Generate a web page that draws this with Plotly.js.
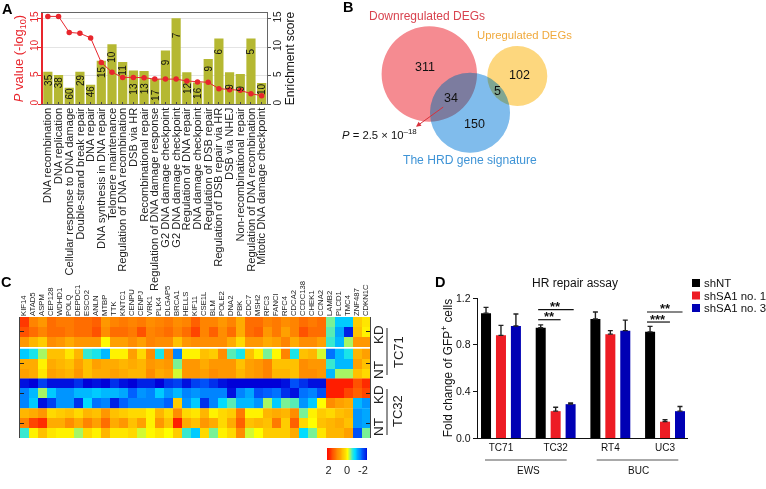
<!DOCTYPE html>
<html><head><meta charset="utf-8">
<script src="https://cdn.plot.ly/plotly-3.0.1.min.js"></script>
<style>html,body{margin:0;padding:0;background:#fff}
#p{width:766px;height:489px}
</style></head><body><div id="p"></div>
<script>
const FONT='"Liberation Sans", Arial, sans-serif';
// Panel A
const terms=["DNA recombination","DNA replication","Cellular response to DNA damage","Double-strand break repair","DNA repair","DNA synthesis in DNA repair","Telomere maintenance","Regulation of DNA recombination","DSB via HR","Recombinational repair","Regulation of DNA damage response","G2 DNA damage checkpoint","G2 DNA damage checkpoint","Regulation of DNA repair","DNA damage checkpoint","Regulation of DSB repair","Regulation of DSB repair via HR","DSB via NHEJ","Non-recombinational repair","Regulation of DNA recombination","Mitotic DNA damage checkpoint"];
const enrichment=[5.7,5.1,2.9,5.7,3.4,7.6,10.5,7.4,5.9,5.8,4.4,9.4,15.05,5.6,3.8,7.9,11.5,5.6,5.3,11.5,3.7];
const pValues=[15.35,15.35,12.56,12.4,11.6,7.3,5.6,4.7,4.7,4.65,4.4,4.4,4.4,4.07,3.9,3.84,2.73,2.56,2.44,1.86,1.5];
const geneCounts=[35,38,60,29,46,15,10,11,13,13,17,9,7,12,16,9,6,9,9,5,10];
const countLabelLevels=[4.24,3.78,1.92,4.24,2.2,5.7,8.3,6.0,2.8,2.8,1.6,7.4,12.1,2.8,1.9,6.3,9.2,3.0,2.8,9.2,2.6];
// Panel B
const vennCounts=["311","102","34","5","150"];
// Panel C
const genes=["KIF14","ATAD5","ASPM","CEP128","WDHD1","POLQ","DEPDC1","ESCO2","ANLN","MTBP","TTK","KNTC1","CENPU","CENPJ","VRK1","PLK4","DLGAP5","BRCA1","HELLS","KIF11","CSE1L","BLM","POLE2","DNA2","PBK","CDC7","MSH2","RFC3","FANCI","RFC4","CDCA2","CCDC138","CHEK1","CCNA2","LAMB2","PLCD1","TMC4","ZNF487","CDKN1C"];
const tc71KD=[
[1.7,1.1,0.9,1.3,1.2,1.2,1.3,1.3,1.4,0.9,1.1,1.2,1.1,1.2,1.0,1.1,1.2,1.0,1.1,1.4,1.1,1.1,0.9,1.1,0.7,1.3,1.3,1.1,1.2,1.0,1.1,1.3,1.2,1.3,-0.3,-0.8,-0.8,0.4,0.2],
[1.5,1.3,1.1,1.3,1.3,1.2,1.3,1.3,1.5,1.0,1.3,1.3,1.2,1.5,1.1,1.2,1.3,1.1,1.3,1.6,1.1,1.4,1.0,1.3,0.7,1.3,1.4,0.9,1.2,0.8,1.1,1.5,1.3,1.3,-0.4,-1.0,-1.8,0.5,0.1],
[0.9,0.6,0.4,1.0,0.9,0.7,0.9,0.9,0.9,0.05,0.8,0.8,1.0,0.8,1.1,1.0,1.0,0.5,0.9,1.0,1.0,1.0,1.0,0.7,0.3,0.9,0.9,0.7,0.8,1.1,0.7,1.0,1.0,0.8,-0.5,-0.9,-0.2,0.9,0.9]];
const tc71NT=[
[-0.8,-0.6,-0.2,0.5,0.5,0.2,0.6,-0.5,-0.6,-0.9,0.1,0.1,0.8,0.3,1.0,-0.6,1.0,-1.2,0.1,0.1,0.5,0.4,1.0,-0.4,-0.6,0.5,0.1,-0.3,0.05,1.1,-0.6,0.5,0.6,-0.1,-1.3,-0.9,-0.6,0.6,0.8],
[0.7,0.7,0.1,0.7,0.6,0.5,0.8,0.5,0.8,0.7,0.7,0.6,0.7,0.6,0.9,0.8,0.9,-0.3,0.9,0.9,0.7,0.9,0.9,0.9,0.5,0.8,0.9,1.1,0.5,0.5,0.5,1.0,0.9,0.9,-0.5,-0.9,-0.9,0.8,0.5],
[0.8,0.7,0.2,0.8,0.7,0.6,0.9,0.5,0.7,0.7,0.8,0.7,0.6,0.6,1.0,0.7,0.8,-0.1,0.9,0.9,0.8,1.0,0.9,0.9,0.6,0.8,0.9,1.1,0.6,0.6,0.5,1.0,1.0,0.9,-0.9,-0.2,-0.2,0.5,0.3]];
const tc32KD=[
[-1.9,-2,-1.6,-1.9,-1.9,-1.9,-1.7,-2,-1.9,-2,-1.7,-1.9,-2,-1.8,-1.8,-2,-1.7,-1.6,-1.9,-1.6,-1.5,-1.7,-1.9,-2,-2,-2,-2,-2,-2,-1.9,-1.5,-1.7,-1.9,-1.9,1.9,1.9,1.9,1.5,1.8],
[-1.2,-0.9,-0.2,-0.8,-1.1,-1.1,-0.9,-0.9,-0.8,-0.9,-0.9,-1.0,-1.4,-1.1,-1.2,-0.8,-1.1,-0.9,-1.2,-1.1,-1.2,-1.2,-1.2,-1.9,-1.2,-1.0,-1.5,-1.4,-1.3,-1.7,-1.9,-1.3,-1.2,-1.5,1.9,1.9,1.6,1.4,1.6],
[-1.2,-0.8,-1.9,-1.6,-1.1,-1.1,-1.7,-0.7,-1.3,-1.2,-1.8,-1.4,-1.2,-1.2,-1.2,-1.2,-1.4,0.4,-1.1,-0.8,-1.7,-1.2,-0.7,-0.4,-0.9,-0.9,-1.1,-0.2,-0.8,-0.3,-0.4,-1.1,-0.8,0.0,1.0,0.8,0.7,-0.9,-1.1]];
const tc32NT=[
[0.6,0.7,0.9,0.3,0.4,0.5,0.3,0.6,0.5,0.9,0.5,0.4,0.3,0.3,0.1,0.6,0.3,1.0,0.3,0.2,0.6,0.1,0.3,0.4,1.2,0.1,0.1,0.6,0.7,0.6,1.0,-0.3,0.1,0.4,0.3,0.5,0.6,-1.1,-1.0],
[1.1,1.6,1.8,0.7,0.7,1.0,0.7,1.1,0.8,1.3,0.7,0.9,0.5,0.8,0.1,0.9,0.5,1.9,0.7,0.5,0.9,0.7,0.3,0.7,1.4,0.5,0.6,0.5,1.2,0.4,1.4,0.3,0,0.5,0.6,0.7,0.5,-1.1,-1.0],
[-0.5,0.1,0.5,0.2,0.1,0.1,-0.2,0.3,0.1,0.6,0.2,0.2,0.3,-0.1,0.05,0.2,0,0.4,-0.5,-0.8,0.3,-0.3,0.1,0.3,1.0,-0.1,0,0.4,0.4,0.4,0.7,-0.7,-0.3,0.2,0.6,0.6,0.8,-1.5,-0.3]];
const colorKeySteps=[2,1.75,1.5,1.25,1,0.75,0.5,0.25,0,-0.25,-0.5,-0.75,-1,-1.25,-1.5,-1.75,-2];
// Panel D
const cellLines=["TC71","TC32","RT4","UC3"];
const shNT=[1.07,0.945,1.02,0.91];
const shNTerr=[0.05,0.025,0.06,0.047];
const shSA1no1=[0.88,0.23,0.89,0.14];
const shSA1no1err=[0.085,0.033,0.03,0.017];
const shSA1no3=[0.96,0.29,0.92,0.23];
const shSA1no3err=[0.103,0.01,0.09,0.04];
const seriesNames=["shNT","shSA1 no. 1","shSA1 no. 3"];
const seriesColors=["#000000","#ed1c24","#0000b4"];

const W=766,H=489;
const fx=x=>x/W, fy=y=>1-y/H;
const dx=(a,b)=>[fx(a),fx(b)], dy=(top,bot)=>[fy(bot),fy(top)];
const RED='#e8262d';
const scale=[[0,'#0000d8'],[0.15,'#0060ff'],[0.33,'#00e0ff'],[0.42,'#70f0a0'],[0.5,'#ffff00'],[0.6,'#ffcc00'],[0.7,'#ffa000'],[0.8,'#ff7a00'],[1,'#ff1000']];
const idx=terms.map((_,i)=>i);
const traces=[];
traces.push({type:'bar',x:idx,y:enrichment,xaxis:'x',yaxis:'y',width:0.86,marker:{color:'#b5b832'},hoverinfo:'y'});
traces.push({type:'scatter',mode:'lines+markers',x:idx,y:pValues,xaxis:'x',yaxis:'y2',line:{color:RED,width:1},marker:{color:RED,size:5.5},hoverinfo:'y'});
const groups=[[tc71KD,0],[tc71NT,3.2],[tc32KD,6.2],[tc32NT,9.2]];
groups.forEach(([z,off])=>traces.push({type:'heatmap',x:genes,y:[off,off+1,off+2],z,xaxis:'x2',yaxis:'y3',zmin:-2,zmax:2,colorscale:scale,showscale:false,hoverinfo:'z'}));
traces.push({type:'heatmap',x:colorKeySteps,y:[0],z:[colorKeySteps],xaxis:'x3',yaxis:'y4',zmin:-2,zmax:2,colorscale:scale,showscale:false,zsmooth:'best',hoverinfo:'x'});
[[shNT,shNTerr],[shSA1no1,shSA1no1err],[shSA1no3,shSA1no3err]].forEach(([v,e],i)=>traces.push({type:'bar',name:seriesNames[i],x:cellLines,y:v,xaxis:'x4',yaxis:'y5',marker:{color:seriesColors[i]},
  error_y:{type:'data',array:e,symmetric:false,arrayminus:[0,0,0,0],color:'#222',thickness:1.4,width:2.5}}));
const f=(s,c)=>({family:FONT,size:s,color:c||'#111'});
const layout={width:W,height:H,margin:{l:0,r:0,t:0,b:0},paper_bgcolor:'#fff',plot_bgcolor:'rgba(0,0,0,0)',showlegend:false,font:f(11),
 barmode:'group',bargap:0.18,bargroupgap:0.33,
 xaxis:{domain:dx(42.5,267),anchor:'y',range:[-0.5,20.5],tickmode:'array',tickvals:idx,ticktext:terms,tickangle:-90,tickfont:f(11.1,'#222'),ticks:'inside',ticklen:2,tickcolor:'#444',showline:true,linecolor:'#666',linewidth:1,mirror:true,showgrid:false,zeroline:false,fixedrange:true,ticklabelstandoff:-2},
 yaxis:{domain:dy(12.7,104.3),anchor:'x',side:'right',range:[0,16],tickmode:'array',tickvals:[0,5,10,15],tickangle:-90,tickfont:f(10,'#222'),ticks:'outside',ticklen:3,tickcolor:'#555',showline:true,linecolor:'#666',showgrid:true,gridcolor:'#e4e4e4',zeroline:false,ticklabelstandoff:-2,
   title:{text:'Enrichment score',font:f(12,'#111'),standoff:2}},
 yaxis2:{domain:dy(12.7,104.3),anchor:'x',overlaying:'y',side:'left',range:[0,16],tickmode:'array',tickvals:[0,5,10,15],tickangle:-90,tickfont:f(10,RED),ticks:'outside',ticklen:3,tickcolor:RED,showline:true,linecolor:RED,linewidth:1.2,showgrid:false,zeroline:false,ticklabelstandoff:-4,
   title:{text:'<i>P</i> value (-log<sub>10</sub>)',font:f(13,RED),standoff:2}},
 xaxis2:{domain:dx(19.5,370),anchor:'y3',side:'top',type:'category',tickmode:'array',tickvals:genes,ticktext:genes,tickangle:-90,tickfont:f(7.7,'#222'),ticks:'',showgrid:false,zeroline:false,showline:false},
 yaxis3:{domain:dy(317,438),anchor:'x2',range:[11.7,-0.5],tickmode:'array',tickvals:[1,4.2,7.2,10.2],showticklabels:false,ticks:'inside',ticklen:4,tickcolor:'#222',showline:true,linecolor:'#444',mirror:'ticks',showgrid:false,zeroline:false},
 xaxis3:{domain:dx(327,367),anchor:'y4',range:[2,-2],tickmode:'array',tickvals:[1.85,0,-1.6],ticktext:['2','0','-2'],tickfont:f(11,'#222'),ticks:'',showgrid:false,zeroline:false,showline:false,ticklabelstandoff:2},
 yaxis4:{domain:dy(448,460),anchor:'x3',range:[-0.5,0.5],visible:false},
 xaxis4:{domain:dx(478,688),anchor:'y5',type:'category',categoryorder:'array',categoryarray:cellLines,range:[-0.42,3.42],tickfont:f(10,'#111'),ticks:'',showline:true,linecolor:'#111',linewidth:1.3,showgrid:false,zeroline:false},
 yaxis5:{domain:dy(298,438),anchor:'x4',range:[0,1.2],tickmode:'array',tickvals:[0,0.4,0.8,1.2],ticktext:['0.0','0.4','0.8','1.2'],tickfont:f(10.5,'#111'),ticks:'outside',ticklen:4,tickcolor:'#111',showline:true,linecolor:'#111',linewidth:1.3,showgrid:false,zeroline:false,
   title:{text:'Fold change of GFP<sup>+</sup> cells',font:f(11.9,'#111'),standoff:0}},
 xaxis5:{domain:[0,1],anchor:'y6',range:[0,W],visible:false,fixedrange:true},
 yaxis6:{domain:[0,1],anchor:'x5',range:[H,0],visible:false,fixedrange:true},
 shapes:[],annotations:[]};
const ann=(x,y,text,font,extra)=>layout.annotations.push(Object.assign({xref:'paper',yref:'paper',x:fx(x),y:fy(y),text,font,showarrow:false,xanchor:'center',yanchor:'middle'},extra||{}));
geneCounts.forEach((c,i)=>layout.annotations.push({xref:'x',yref:'y',x:i,y:countLabelLevels[i],text:String(c),showarrow:false,textangle:-90,font:f(10,'#111'),xanchor:'center',yanchor:'middle'}));
[['A',7,9],['B',348,7],['C',6.5,282],['D',440,282]].forEach(([t,x,y])=>ann(x,y,'<b>'+t+'</b>',f(14.5,'#000')));
const circle=(cx,cy,r,c,op)=>layout.shapes.push({type:'circle',xref:'x5',yref:'y6',x0:cx-r,x1:cx+r,y0:cy-r,y1:cy+r,fillcolor:c,line:{width:0},layer:'above',opacity:op||1});
circle(429.3,74,47.7,'#f58b91');circle(517.3,76,30,'#fdd77e');circle(470,112.7,40,'#80bdec');circle(470,112.7,40,'#7fbdec',0.25);
ann(427,16,'Downregulated DEGs',f(12,'#d8434f'));
ann(524,35,'Upregulated DEGs',f(11.3,'#f0a93c'));
ann(469.5,160,'The HRD gene signature',f(12.1,'#3f94d6'));
[[425,67],[519,75],[451,98],[497,91],[474.7,123.5]].forEach(([x,y],i)=>ann(x,y,vennCounts[i],f(12.5,'#111')));
ann(379,134,'<i>P</i> = 2.5 × 10<sup>–18</sup>',f(11.3,'#111'));
layout.annotations.push({xref:'paper',yref:'paper',x:fx(416),y:fy(126.7),ax:fx(444.7),ay:fy(106),axref:'paper',ayref:'paper',text:'',showarrow:true,arrowhead:2,arrowsize:1,arrowwidth:1,arrowcolor:'#d8303a'});
[['KD',378,335],['NT',378,370],['KD',378,395],['NT',378,427]].forEach(([t,x,y])=>ann(x,y,t,f(13.5,'#222'),{textangle:-90}));
[['TC71',398,352],['TC32',397,411]].forEach(([t,x,y])=>ann(x,y,t,f(13,'#222'),{textangle:-90}));
const pline=(x0,y0,x1,y1,w,c)=>layout.shapes.push({type:'line',xref:'paper',yref:'paper',x0:fx(x0),x1:fx(x1),y0:fy(y0),y1:fy(y1),line:{width:w||1,color:c||'#222'}});
pline(387,328,387,375);pline(387,389,387,435);
ann(574.7,283,'HR repair assay',f(12,'#111'));
pline(485,460,566.7,460,1,'#555');pline(596.7,460,678.3,460,1,'#555');
ann(528,470,'EWS',f(10,'#111'));ann(638.7,470,'BUC',f(10,'#111'));
const sig=(x0,x1,y)=>layout.shapes.push({type:'line',xref:'x4',yref:'y5',x0,x1,y0:y,y1:y,line:{width:1.2,color:'#111'}});
sig(0.68,1.09,1.014);sig(0.68,1.33,1.10);sig(2.67,3.09,0.994);sig(2.67,3.32,1.08);
[[0.88,1.0,'**'],[1.0,1.09,'**'],[2.88,0.98,'***'],[3.0,1.07,'**']].forEach(([x,y,t])=>layout.annotations.push({xref:'x4',yref:'y5',x,y,text:'<b>'+t+'</b>',showarrow:false,font:f(13,'#111'),yanchor:'bottom',yshift:-5}));
seriesNames.forEach((n,i)=>{const y=283+i*12.5;
  layout.shapes.push({type:'rect',xref:'paper',yref:'paper',x0:fx(692),x1:fx(700),y0:fy(y-4),y1:fy(y+4),fillcolor:seriesColors[i],line:{width:0}});
  ann(702,y,n,f(11.4,'#111'),{xanchor:'left'});});
Plotly.newPlot('p',traces,layout,{staticPlot:true,displayModeBar:false}).then(()=>{
  document.querySelectorAll('.shapelayer path').forEach(p=>{const s=p.style.fill||'';
    if(/253, ?215|245, ?139|128, ?189/.test(s)){p.style.mixBlendMode='multiply';if(p.parentNode&&p.parentNode.classList.contains('shape-group'))p.parentNode.style.mixBlendMode='multiply';}});
});
</script></body></html>
